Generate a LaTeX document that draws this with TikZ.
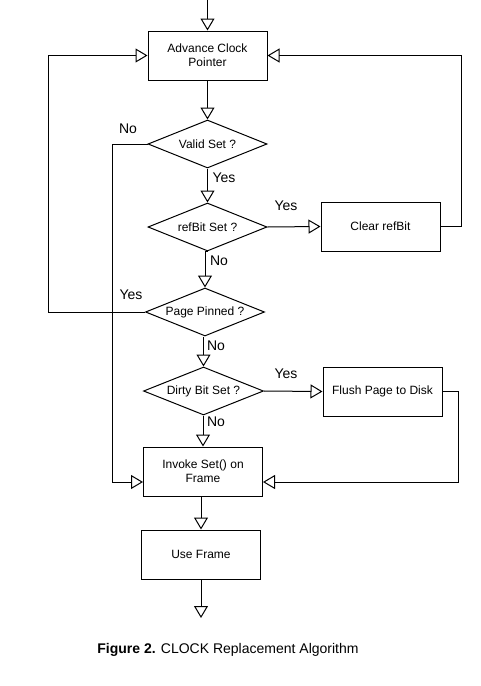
\documentclass[tikz,border=0pt]{standalone}
\usepackage{fontspec}
\setmainfont{Liberation Sans}
\usetikzlibrary{shapes.geometric,arrows.meta,calc}
\tikzset{
  box/.style={draw, line width=1pt, minimum width=119pt, minimum height=49pt, inner sep=0pt, align=center, font=\fontsize{12}{14}\selectfont},
  dia/.style={draw, line width=1pt, diamond, aspect=2.48, minimum width=119pt, minimum height=48pt, inner sep=0pt, font=\fontsize{12}{14}\selectfont},
  arr/.style={line width=1pt, -{Triangle[open, length=12pt, width=14pt, line width=1pt]}},
  lbl/.style={inner sep=0pt, font=\fontsize{14}{16}\selectfont}
}
\begin{document}
\begin{tikzpicture}[x=1pt,y=-1pt]
\useasboundingbox[fill=white] (0,0) rectangle (481,686);
\node[box] (adv) at (207.5,55.5) {Advance Clock\\Pointer};
\node[dia] (valid) at (207.5,144) {Valid Set ?};
\node[dia] (ref) at (207.5,227) {refBit Set ?};
\node[box] (clear) at (380.5,226.5) {Clear refBit};
\node[dia] (pin) at (205,312) {Page Pinned ?};
\node[dia, minimum width=120pt] (dirty) at (203.5,391) {Dirty Bit Set ?};
\node[box] (flush) at (382.5,391.5) {Flush Page to Disk};
\node[box] (invoke) at (203,471.5) {Invoke Set() on\\Frame};
\node[box] (use) at (201,554.5) {Use Frame};

\coordinate (top) at (207.5,0);
\coordinate (endp) at (201,618);
\coordinate (invL) at ([yshift=-10.5pt]invoke.west);
\coordinate (invR) at ([yshift=-10.5pt]invoke.east);

\draw[arr] (top) -- (adv.north);
\draw[arr] (adv.south) -- (valid.north);
\draw[arr] (valid.south) -- (ref.north);
\draw[arr] (ref.south -| pin.north) -- (pin.north);
\draw[line width=1pt] (ref.south) -- (ref.south -| pin.north);
\draw[arr] (pin.south -| dirty.north) -- (dirty.north);
\draw[arr] (dirty.south -| invoke.north) -- (invoke.north);
\draw[arr] (invoke.south -| use.north) -- (use.north);
\draw[arr] (use.south) -- (endp);
\draw[arr] (ref.east) -- (clear.west);
\draw[arr] (dirty.east) -- (flush.west);
\draw[arr] (clear.east) -- ++(21,0) |- (adv.east);
\draw[arr] (pin.west) -- ++(-97,0) |- (adv.west);
\draw[arr] (valid.west) -- ++(-35.5,0) |- (invL);
\draw[arr] (flush.east) -- ++(16,0) |- (invR);

\node[lbl] (l1) at (128,129) {No};
\node[lbl] (l2) at (224,178) {Yes};
\node[lbl] (l3) at (286,206) {Yes};
\node[lbl] (l4) at (219,261) {No};
\node[lbl] (l5) at (131,295) {Yes};
\node[lbl] (l6) at (216,346) {No};
\node[lbl] (l7) at (286,374) {Yes};
\node[lbl] (l8) at (216,422) {No};

\node[inner sep=0pt, font=\fontsize{14}{16}\selectfont] (cap) at (228,649.5) {\textbf{Figure 2.} CLOCK Replacement Algorithm};
\end{tikzpicture}
\end{document}
